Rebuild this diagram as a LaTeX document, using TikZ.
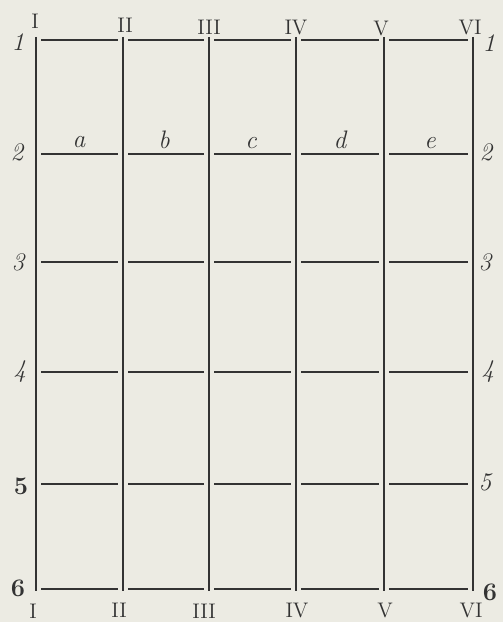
\documentclass[tikz,border=0pt]{standalone}
\usepackage{tikz}
\definecolor{sheetPaper}{HTML}{ECEBE3}
\definecolor{sheetInk}{HTML}{333333}
\begin{document}
\begin{tikzpicture}[x=0.2mm, y=-0.2mm,
		rule/.style={line width=0.48mm, draw=sheetInk},
		roman/.style={font=\large, text=sheetInk, inner sep=0pt},
		rownum/.style={font=\Large\itshape, text=sheetInk, inner sep=0pt},
		field/.style={font=\Large\itshape, text=sheetInk, inner sep=0pt}
	]
		\fill[sheetPaper] (0,0) rectangle (503,622);
		% grid points
		\foreach \c/\x in {1/36,2/123,3/209,4/296,5/384,6/473} {
			\coordinate (top-\c) at (\x,37);
			\coordinate (bot-\c) at (\x,591);
			\foreach \r/\y in {1/40,2/154,3/262,4/372,5/484,6/589}
				\coordinate (p-\c-\r) at (\x,\y);
		}
		% columns
		\foreach \c in {1,...,6}
			\draw[rule] (top-\c) -- (bot-\c);
		% rows
		\foreach \c [evaluate=\c as \n using int(\c+1)] in {1,...,5}
			\foreach \r in {1,...,6}
				\draw[rule] ([xshift=1mm]p-\c-\r) -- ([xshift=-1mm]p-\n-\r);
		% column numbers
		\node[roman] (ct-1) at (35,21) {I};
		\node[roman] (ct-2) at (125,25) {II};
		\node[roman] (ct-3) at (209,27) {III};
		\node[roman] (ct-4) at (296,28) {IV};
		\node[roman] (ct-5) at (381,29) {V};
		\node[roman] (ct-6) at (470,28) {VI};
		\node[roman] (cb-1) at (33,611) {I};
		\node[roman] (cb-2) at (119,610) {II};
		\node[roman] (cb-3) at (204,611) {III};
		\node[roman] (cb-4) at (297,611) {IV};
		\node[roman] (cb-5) at (385,611) {V};
		\node[roman] (cb-6) at (471,611) {VI};
		% row numbers
		\node[rownum] (rl-1) at (18,42) {1};
		\node[rownum] (rl-2) at (17,152) {2};
		\node[rownum] (rl-3) at (18,262) {3};
		\node[rownum] (rl-4) at (20,372) {4};
		\node[rownum, font=\Large\bfseries] (rl-5) at (21,486) {5};
		\node[rownum, font=\Large\bfseries] (rl-6) at (18,588) {6};
		\node[rownum] (rr-1) at (489,43) {1};
		\node[rownum] (rr-2) at (486,152) {2};
		\node[rownum] (rr-3) at (485,262) {3};
		\node[rownum] (rr-4) at (488,372) {4};
		\node[rownum] (rr-5) at (485,482) {5};
		\node[rownum, font=\Large\bfseries] (rr-6) at (490,592) {6};
		% fields
		\node[field] (fa) at (79,142) {a};
		\node[field] (fb) at (164,140) {b};
		\node[field] (fc) at (251,143) {c};
		\node[field] (fd) at (340,140) {d};
		\node[field] (fe) at (430,143) {e};
	\end{tikzpicture}
\end{document}
